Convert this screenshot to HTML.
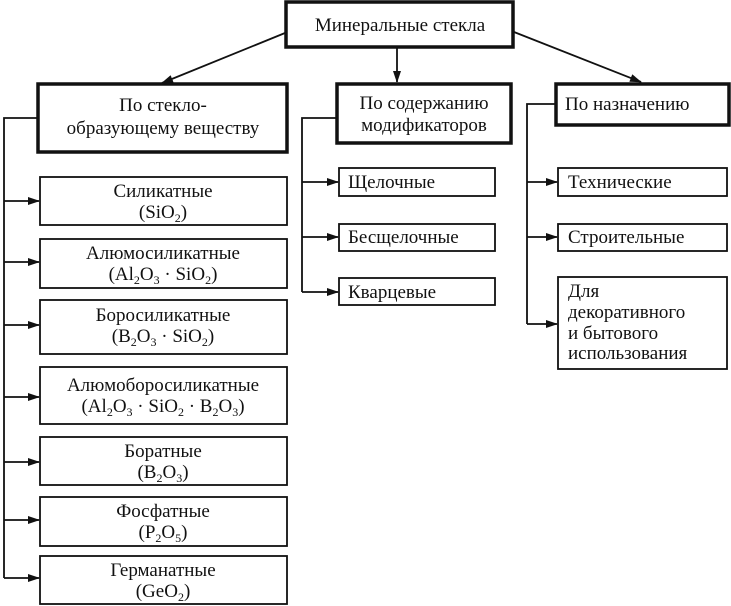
<!DOCTYPE html>
<html><head><meta charset="utf-8"><style>
html,body{margin:0;padding:0;background:#fff;}
svg{display:block;}
text{font-family:"Liberation Serif",serif;font-size:19px;fill:#111;}
.s{font-size:12px;}
</style></head><body>
<svg width="731" height="606" viewBox="0 0 731 606" xmlns="http://www.w3.org/2000/svg">
<defs><marker id="a" markerWidth="12" markerHeight="8" refX="11" refY="4" orient="auto" markerUnits="userSpaceOnUse"><path d="M0,0 L12,4 L0,8 Z" fill="#111"/></marker></defs>
<g stroke="#111" fill="none">
<rect x="286" y="2" width="227" height="45" stroke-width="3.5"/>
<rect x="38" y="84" width="249" height="68" stroke-width="3.5"/>
<rect x="337" y="84" width="174" height="59" stroke-width="3.5"/>
<rect x="556" y="84" width="173" height="41" stroke-width="3.5"/>
<g stroke-width="1.8">
<rect x="40" y="177" width="247" height="48"/>
<rect x="40" y="239" width="247" height="49"/>
<rect x="40" y="300" width="247" height="54"/>
<rect x="40" y="367" width="247" height="57"/>
<rect x="40" y="437" width="247" height="48"/>
<rect x="40" y="497" width="247" height="49"/>
<rect x="40" y="556" width="247" height="48"/>
<rect x="339" y="168" width="156" height="28"/>
<rect x="339" y="224" width="156" height="27"/>
<rect x="339" y="278" width="156" height="27"/>
<rect x="558" y="168" width="169" height="28"/>
<rect x="558" y="224" width="169" height="27"/>
<rect x="558" y="277" width="169" height="92"/>
</g>
<g stroke-width="1.8">
<line x1="285" y1="33" x2="162" y2="83" marker-end="url(#a)"/>
<line x1="397" y1="48" x2="397" y2="82" marker-end="url(#a)"/>
<line x1="514" y1="32" x2="641" y2="82" marker-end="url(#a)"/>
<polyline points="37,118 4,118 4,578"/>
<polyline points="336,118 302,118 302,292"/>
<polyline points="555,104 527,104 527,324"/>
<line x1="4" y1="201" x2="39" y2="201" marker-end="url(#a)"/>
<line x1="4" y1="262" x2="39" y2="262" marker-end="url(#a)"/>
<line x1="4" y1="325" x2="39" y2="325" marker-end="url(#a)"/>
<line x1="4" y1="397" x2="39" y2="397" marker-end="url(#a)"/>
<line x1="4" y1="462" x2="39" y2="462" marker-end="url(#a)"/>
<line x1="4" y1="520" x2="39" y2="520" marker-end="url(#a)"/>
<line x1="4" y1="578" x2="39" y2="578" marker-end="url(#a)"/>
<line x1="302" y1="182" x2="338" y2="182" marker-end="url(#a)"/>
<line x1="302" y1="237" x2="338" y2="237" marker-end="url(#a)"/>
<line x1="302" y1="292" x2="338" y2="292" marker-end="url(#a)"/>
<line x1="527" y1="182" x2="557" y2="182" marker-end="url(#a)"/>
<line x1="527" y1="237" x2="557" y2="237" marker-end="url(#a)"/>
<line x1="527" y1="324" x2="557" y2="324" marker-end="url(#a)"/>
</g>
</g>
<g text-anchor="middle">
<text x="400" y="31">Минеральные стекла</text>
<text x="163" y="111">По стекло-</text>
<text x="163" y="134">образующему веществу</text>
<text x="163" y="197">Силикатные</text>
<text x="163" y="218">(SiO<tspan class="s" dy="4">2</tspan><tspan dy="-4">)</tspan></text>
<text x="163" y="259">Алюмосиликатные</text>
<text x="163" y="280">(Al<tspan class="s" dy="4">2</tspan><tspan dy="-4">O</tspan><tspan class="s" dy="4">3</tspan><tspan dy="-4"> · SiO</tspan><tspan class="s" dy="4">2</tspan><tspan dy="-4">)</tspan></text>
<text x="163" y="321">Боросиликатные</text>
<text x="163" y="342">(B<tspan class="s" dy="4">2</tspan><tspan dy="-4">O</tspan><tspan class="s" dy="4">3</tspan><tspan dy="-4"> · SiO</tspan><tspan class="s" dy="4">2</tspan><tspan dy="-4">)</tspan></text>
<text x="163" y="391">Алюмоборосиликатные</text>
<text x="163" y="412">(Al<tspan class="s" dy="4">2</tspan><tspan dy="-4">O</tspan><tspan class="s" dy="4">3</tspan><tspan dy="-4"> · SiO</tspan><tspan class="s" dy="4">2</tspan><tspan dy="-4"> · B</tspan><tspan class="s" dy="4">2</tspan><tspan dy="-4">O</tspan><tspan class="s" dy="4">3</tspan><tspan dy="-4">)</tspan></text>
<text x="163" y="457">Боратные</text>
<text x="163" y="478">(B<tspan class="s" dy="4">2</tspan><tspan dy="-4">O</tspan><tspan class="s" dy="4">3</tspan><tspan dy="-4">)</tspan></text>
<text x="163" y="517">Фосфатные</text>
<text x="163" y="538">(P<tspan class="s" dy="4">2</tspan><tspan dy="-4">O</tspan><tspan class="s" dy="4">5</tspan><tspan dy="-4">)</tspan></text>
<text x="163" y="576">Германатные</text>
<text x="163" y="597">(GeO<tspan class="s" dy="4">2</tspan><tspan dy="-4">)</tspan></text>
<text x="424" y="109">По содержанию</text>
<text x="424" y="131">модификаторов</text>
</g>
<text x="348" y="188">Щелочные</text>
<text x="348" y="243">Бесщелочные</text>
<text x="348" y="298">Кварцевые</text>
<text x="565" y="110">По назначению</text>
<text x="568" y="188">Технические</text>
<text x="568" y="243">Строительные</text>
<text x="568" y="297">Для</text>
<text x="568" y="318">декоративного</text>
<text x="568" y="339">и бытового</text>
<text x="568" y="359">использования</text>
</svg>
</body></html>
